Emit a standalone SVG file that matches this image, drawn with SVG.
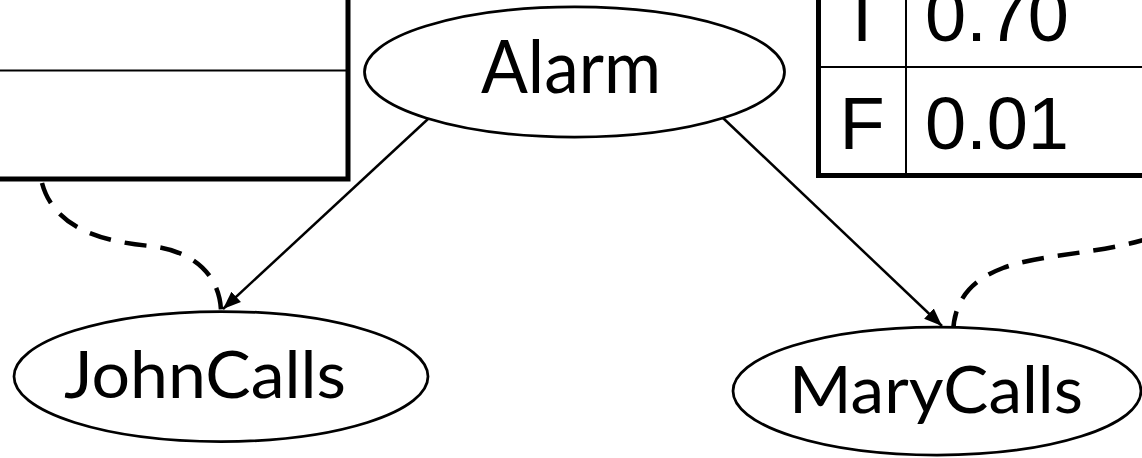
<svg xmlns="http://www.w3.org/2000/svg" width="1142" height="458" viewBox="0 0 1142 458">
  <defs>
    <marker id="head" markerUnits="userSpaceOnUse" markerWidth="20" markerHeight="16" viewBox="0 0 20 16" refX="18" refY="8" orient="auto">
      <path d="M0,1 L18,8 L0,15 Z" fill="#000"/>
    </marker>
    <style>
      .node { fill: #fff; stroke: #000; stroke-width: 2.75; }
      .label { font-family: Lato, "Open Sans", sans-serif; fill: #000; text-anchor: middle; }
      .thick { stroke: #000; stroke-width: 5; fill: none; }
      .thin { stroke: #000; stroke-width: 2; fill: none; }
      .cell { font-family: "Liberation Sans", Arial, sans-serif; font-size: 74px; fill: #000; }
      .edge { stroke: #000; stroke-width: 2.5; fill: none; }
      .dash { stroke: #000; stroke-width: 4.5; fill: none; stroke-dasharray: 22 14; }
    </style>
  </defs>
  <rect width="1142" height="458" fill="#fff"/>

  <!-- CPT table for JohnCalls (cropped at the left edge) -->
  <g id="cpt-john">
    <line class="thin" x1="-10" y1="70.5" x2="348" y2="70.5"/>
    <polyline class="thick" points="348,-10 348,179 -10,179"/>
  </g>

  <!-- CPT table for MaryCalls (cropped at the top and right edges) -->
  <g id="cpt-mary">
    <line class="thin" x1="818.5" y1="67" x2="1150" y2="67"/>
    <line class="thin" x1="906" y1="-10" x2="906" y2="175.5"/>
    <polyline class="thick" points="818.5,-10 818.5,175.5 1150,175.5"/>
    <text class="cell" x="862" y="41" text-anchor="middle">T</text>
    <text class="cell" x="925" y="41">0.70</text>
    <text class="cell" x="862" y="149" text-anchor="middle">F</text>
    <text class="cell" x="925" y="149">0.01</text>
  </g>

  <!-- Connectors -->
  <g id="connectors">
    <line class="edge" x1="428" y1="119" x2="223" y2="309" marker-end="url(#head)"/>
    <line class="edge" x1="723" y1="118" x2="942" y2="326" marker-end="url(#head)"/>
    <path class="dash" d="M42,183 C55,232 110,242 150,246 S219,272 221,310"/>
    <path class="dash" d="M1150,238 C1100,254 1040,254 1003,268 S954,305 953,333"/>
  </g>

  <g id="node-alarm">
    <ellipse class="node" cx="574.5" cy="72" rx="210" ry="65"/>
    <text class="label" x="571" y="93" font-size="74" textLength="180" lengthAdjust="spacingAndGlyphs">Alarm</text>
  </g>

  <g id="node-johncalls">
    <ellipse class="node" cx="221" cy="376.5" rx="207" ry="65"/>
    <text class="label" x="205" y="398" font-size="66" textLength="282" lengthAdjust="spacingAndGlyphs">JohnCalls</text>
  </g>

  <g id="node-marycalls">
    <ellipse class="node" cx="937" cy="391" rx="204" ry="64"/>
    <text class="label" x="936" y="413" font-size="66" textLength="294" lengthAdjust="spacingAndGlyphs">MaryCalls</text>
  </g>
</svg>
